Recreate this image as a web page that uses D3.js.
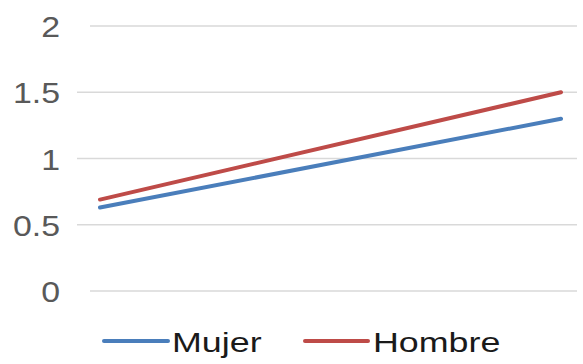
<!DOCTYPE html>
<html>
<head>
  <script src="https://cdnjs.cloudflare.com/ajax/libs/d3/7.8.5/d3.min.js"></script>
  <style>
    body { margin: 0; background: #fff; }
    text { font-family: "Liberation Sans", Arial, sans-serif; }
  </style>
</head>
<body>
  <svg id="chart" width="583" height="364"></svg>
  <script>
  // data
  const categories = ['Inicio', 'Final'];
  const mujer = [0.63, 1.30];
  const hombre = [0.69, 1.50];
  const yTicks = [0, 0.5, 1, 1.5, 2];
  const seriesNames = ['Mujer', 'Hombre'];
  const colors = ['#4A7EBB', '#BE4B48'];

  const svg = d3.select('#chart');

  const x = d3.scalePoint().domain(categories).range([100, 561]);
  const y = d3.scaleLinear().domain([0, 2]).range([291, 26]);

  // gridlines (outer ones start a bit further right, like the original)
  svg.append('g').selectAll('line')
    .data(yTicks)
    .join('line')
      .attr('x1', d => (d === 0 || d === 2) ? 90 : 77)
      .attr('x2', 577)
      .attr('y1', d => y(d))
      .attr('y2', d => y(d))
      .attr('stroke', '#d9d9d9')
      .attr('stroke-width', 1.5);

  // y tick labels
  svg.append('g').selectAll('g')
    .data(yTicks)
    .join('g')
      .attr('transform', d => `translate(60,${y(d) + 11}) scale(1.13,1)`)
    .append('text')
      .attr('text-anchor', 'end')
      .attr('font-size', 30)
      .attr('fill', '#595959')
      .text(d => d);

  const line = d3.line()
    .x((d, i) => x(categories[i]))
    .y(d => y(d));

  [mujer, hombre].forEach((s, i) => {
    svg.append('path')
      .datum(s)
      .attr('d', line)
      .attr('fill', 'none')
      .attr('stroke', colors[i])
      .attr('stroke-width', 4)
      .attr('stroke-linecap', 'round');
  });

  // legend
  const legendX = [104, 305];
  const legend = svg.append('g').selectAll('g')
    .data(seriesNames)
    .join('g')
      .attr('transform', (d, i) => `translate(${legendX[i]},341)`);

  legend.append('line')
    .attr('x1', 0)
    .attr('x2', (d, i) => i === 0 ? 64 : 63)
    .attr('stroke', (d, i) => colors[i])
    .attr('stroke-width', 4)
    .attr('stroke-linecap', 'round');

  legend.append('g')
    .attr('transform', (d, i) => `translate(${i === 0 ? 68 : 68},11) scale(1.28,1)`)
    .append('text')
      .attr('font-size', 28)
      .attr('fill', '#1a1a1a')
      .text(d => d);
  </script>
</body>
</html>
